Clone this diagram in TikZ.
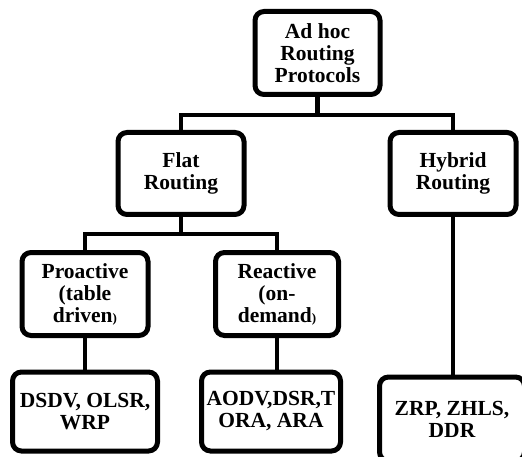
\documentclass[tikz,border=0pt]{standalone}
\usepackage{fontspec}
\setmainfont{Liberation Serif}
\newcommand{\smallparen}{{\fontsize{13}{13}\selectfont)}}

\begin{document}
\begin{tikzpicture}[x=1pt, y=-1pt,
    box/.style={draw=black, line width=5pt, rounded corners=9pt, fill=white, align=center,
        font=\bfseries\fontsize{21.5}{22}\selectfont, inner sep=0pt},
    link/.style={line width=4.6pt}]
    \useasboundingbox (0,0) rectangle (522,457);
    \clip (0,0) rectangle (522,457);

    \node[box, minimum width=125pt, minimum height=83pt] (adhoc) at (317.5, 53) {Ad hoc\\Routing\\Protocols};
    \node[box, minimum width=126pt, minimum height=82pt] (flat) at (181, 173.5) {Flat\\Routing};
    \node[box, minimum width=126pt, minimum height=82pt] (hybrid) at (453, 173.5) {Hybrid\\Routing};
    \node[box, minimum width=126pt, minimum height=83pt] (proactive) at (85, 294) {Proactive\\(table\\driven\smallparen};
    \node[box, minimum width=123pt, minimum height=83pt] (reactive) at (277, 294) {Reactive\\(on-\\demand\smallparen};
    \node[box, minimum width=145pt, minimum height=79pt] (dsdv) at (85, 411.5) {DSDV, OLSR,\\WRP};
    \node[box, minimum width=139pt, minimum height=79pt] (aodv) at (271, 411.5) {AODV,DSR,T\\ORA, ARA};
    \node[box, minimum width=145pt, minimum height=84pt] (zrp) at (452, 419) {ZRP, ZHLS,\\DDR};

    \coordinate (bartop) at (317.5, 115);
    \coordinate (barflat) at (181, 234);

    \draw[link] (adhoc) -- (bartop);
    \draw[link] (flat.north) |- (bartop) -| (hybrid.north);
    \draw[link] (flat) -- (barflat);
    \draw[link] (proactive.north) |- (barflat) -| (reactive.north);
    \draw[link] (proactive) -- (dsdv);
    \draw[link] (reactive.south) -- (reactive.south |- aodv.north);
    \draw[link] (hybrid.south) -- (hybrid.south |- zrp.north);
\end{tikzpicture}
\end{document}
